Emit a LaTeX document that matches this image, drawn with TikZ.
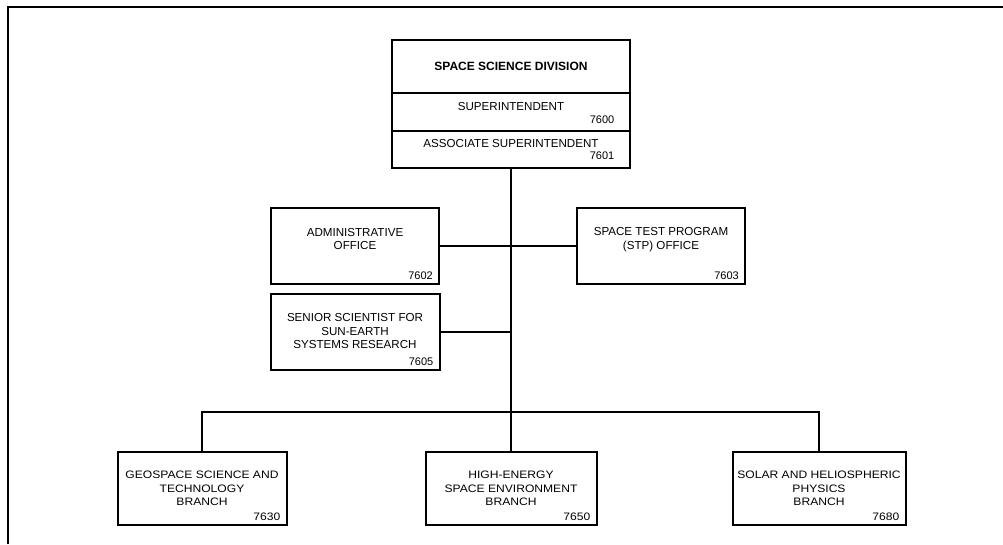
\documentclass[tikz,border=0pt]{standalone}
\usepackage{fontspec}
\setmainfont{Liberation Sans}
\newfontfamily\widefont[FakeStretch=1.12]{Liberation Sans}
\usetikzlibrary{positioning}

\begin{document}
\begin{tikzpicture}[
    x=1pt, y=-1pt,
    box/.style={draw, line width=2pt, outer sep=0pt, inner sep=0pt, minimum width=168pt, minimum height=76pt},
    txt/.style={align=center, inner sep=0pt, font=\fontsize{11.6}{13.5}\selectfont},
    lowtxt/.style={align=center, inner sep=0pt, font=\widefont\fontsize{10.8}{13.3}\selectfont},
    num/.style={anchor=south east, inner sep=0pt, font=\fontsize{11}{13}\selectfont},
    corner/.style={num, xshift=-6pt, yshift=4.5pt},
    topcorner/.style={num, xshift=-15.5pt, yshift=7.5pt},
    link/.style={line width=2pt}
]
    \useasboundingbox (0,0) rectangle (1003,544);
    \draw[line width=2.2pt] (8,544) -- (8,7) -- (1003,7);

    % division head
    \node[box, minimum width=238pt, minimum height=52.7pt] (division) at (511,66.3) {};
    \node[font=\bfseries\fontsize{12}{14}\selectfont] (division-txt) at (division) {SPACE SCIENCE DIVISION};
    \node[box, minimum width=238pt, minimum height=38.3pt, below=0pt of division] (sup) {};
    \node[txt, below=10pt of sup.north] (sup-txt) {SUPERINTENDENT};
    \node[topcorner] (sup-no) at (sup.south east) {7600};
    \node[box, minimum width=238pt, minimum height=36.7pt, below=0pt of sup] (assoc) {};
    \node[txt, below=8.3pt of assoc.north] (assoc-txt) {ASSOCIATE SUPERINTENDENT};
    \node[topcorner] (assoc-no) at (assoc.south east) {7601};

    % staff offices
    \node[box] (admin) at (355,246) {};
    \node[txt, below=20pt of admin.north] (admin-txt) {ADMINISTRATIVE\\OFFICE};
    \node[corner] (admin-no) at (admin.south east) {7602};
    \node[box] (stp) at (661,246) {};
    \node[txt, below=19.5pt of stp.north] (stp-txt) {SPACE TEST PROGRAM\\(STP) OFFICE};
    \node[corner] (stp-no) at (stp.south east) {7603};
    \node[box, minimum width=169pt, below=10pt of admin] (senior) {};
    \node[txt, below=19.5pt of senior.north] (senior-txt) {SENIOR SCIENTIST FOR\\SUN-EARTH\\SYSTEMS RESEARCH};
    \node[corner] (senior-no) at (senior.south east) {7605};

    % branches
    \node[box, minimum width=169pt, minimum height=73pt] (geo) at (202,488.5) {};
    \node[lowtxt, below=19pt of geo.north] (geo-txt) {GEOSPACE SCIENCE AND\\TECHNOLOGY\\BRANCH};
    \node[corner, font=\widefont\fontsize{10.8}{13}\selectfont] (geo-no) at (geo.south east) {7630};
    \node[box, minimum width=171pt, minimum height=73pt] (high) at (511,488.5) {};
    \node[lowtxt, below=19pt of high.north] (high-txt) {HIGH-ENERGY\\SPACE ENVIRONMENT\\BRANCH};
    \node[corner, font=\widefont\fontsize{10.8}{13}\selectfont] (high-no) at (high.south east) {7650};
    \node[box, minimum width=173pt, minimum height=73pt] (solar) at (819,488.5) {};
    \node[lowtxt, below=19pt of solar.north] (solar-txt) {SOLAR AND HELIOSPHERIC\\PHYSICS\\BRANCH};
    \node[corner, font=\widefont\fontsize{10.8}{13}\selectfont] (solar-no) at (solar.south east) {7680};

    \coordinate (hub) at (511,412);
    \draw[link] (assoc.south) -- (hub);
    \draw[link] (admin.east) -- (stp.west);
    \draw[link] (senior.east) -- (senior.east -| hub);
    \draw[link] (geo.north) |- (hub) -| (solar.north);
    \draw[link] (hub) -- (high.north);
\end{tikzpicture}
\end{document}
